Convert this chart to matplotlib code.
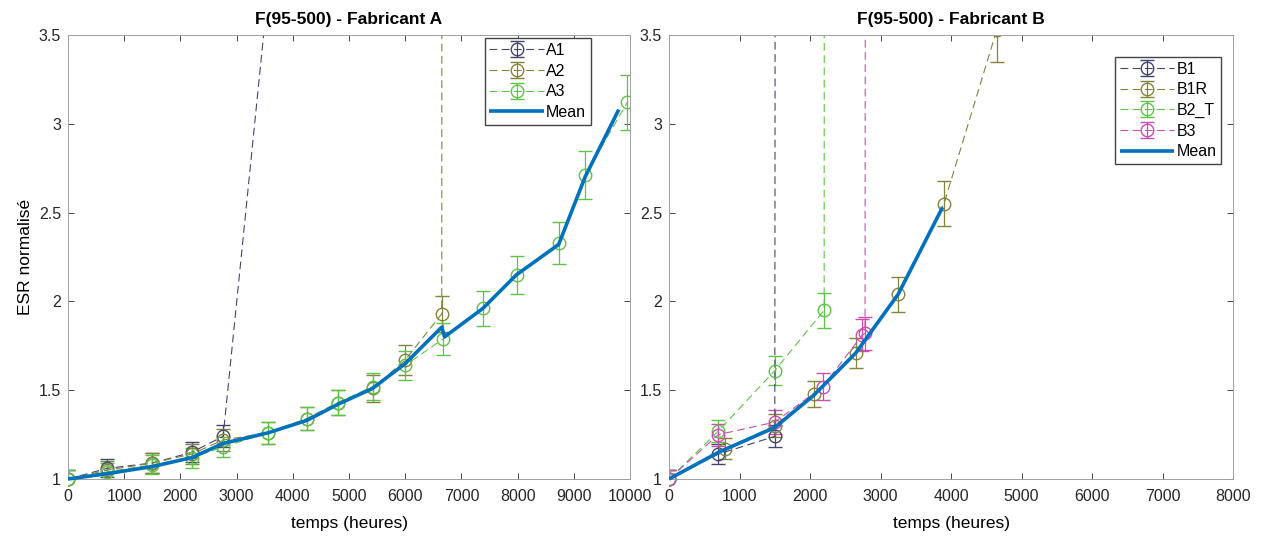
"""
ESR normalisé en fonction du temps - fabricants A et B
"""

import matplotlib
matplotlib.use("Agg")
import matplotlib.pyplot as plt
from matplotlib.transforms import Bbox, TransformedBbox

plt.rcParams["font.family"] = ["Liberation Sans", "DejaVu Sans"]

# --- Fabricant A ---
a1_t = [0, 700, 1500, 2200, 2760, 3560]
a1_y = [1.00, 1.06, 1.09, 1.15, 1.24, 3.75]
a1_e = [0.05, 0.05, 0.055, 0.057, 0.062, 0.19]

a2_t = [0, 700, 1500, 2200, 2760, 3560, 4250, 4800, 5420, 6000, 6650, 6660]
a2_y = [1.00, 1.05, 1.09, 1.14, 1.22, 1.26, 1.34, 1.43, 1.51, 1.67, 1.93, 12.0]
a2_e = [0.05, 0.053, 0.055, 0.057, 0.061, 0.063, 0.067, 0.072, 0.075, 0.083, 0.10, 0.6]

a3_t = [0, 700, 1500, 2200, 2760, 3560, 4250, 4800, 5420, 6000, 6680, 7380, 7980, 8730, 9200, 9950]
a3_y = [1.00, 1.04, 1.08, 1.12, 1.18, 1.26, 1.34, 1.43, 1.52, 1.64, 1.79, 1.96, 2.15, 2.33, 2.71, 3.12]
a3_e = [0.05, 0.052, 0.054, 0.056, 0.059, 0.063, 0.067, 0.072, 0.076, 0.082, 0.09, 0.098, 0.108, 0.117, 0.136, 0.156]

mean_a_t = [0, 700, 1500, 2200, 2760, 3560, 4250, 4800, 5420, 6000, 6650, 6700, 7380, 7980, 8730, 9200, 9800]
mean_a_y = [1.00, 1.03, 1.07, 1.12, 1.20, 1.26, 1.33, 1.42, 1.51, 1.65, 1.855, 1.80, 1.96, 2.15, 2.32, 2.70, 3.08]

# --- Fabricant B ---
b1_t = [0, 700, 1500, 1520]
b1_y = [1.00, 1.14, 1.24, 12.0]
b1_e = [0.05, 0.057, 0.062, 0.6]

b1r_t = [0, 800, 1500, 2050, 2650, 3250, 3900, 4650]
b1r_y = [1.00, 1.17, 1.30, 1.48, 1.71, 2.04, 2.55, 3.53]
b1r_e = [0.05, 0.058, 0.065, 0.074, 0.085, 0.10, 0.127, 0.18]

b2t_t = [0, 700, 1500, 2200, 2210]
b2t_y = [1.00, 1.27, 1.61, 1.95, 12.0]
b2t_e = [0.05, 0.063, 0.08, 0.098, 0.6]

b3_t = [0, 700, 1500, 2180, 2740, 2780, 2800]
b3_y = [1.00, 1.25, 1.32, 1.52, 1.81, 1.82, 12.0]
b3_e = [0.05, 0.062, 0.066, 0.076, 0.09, 0.091, 0.6]

mean_b_t = [0, 700, 1500, 2050, 2650, 3250, 3880]
mean_b_y = [1.00, 1.15, 1.29, 1.47, 1.71, 2.04, 2.53]

C_NAVY = "#44446f"
C_OLIVE = "#83833a"
C_GREEN = "#5cc544"
C_MAGENTA = "#cc4cb2"
C_MEAN = "#0072bd"

DASH = (0, (7, 4))


def loose_clip(ax, artist):
    # comme MATLAB : les marqueurs sur l'axe y=1 ne sont pas coupés
    box = TransformedBbox(Bbox([[0, -0.04], [1, 1]]), ax.transAxes)
    artist.set_clip_box(box)
    artist.set_clip_path(None)


def draw_series(ax, t, y, e, color, label):
    cont = ax.errorbar(
        t, y, yerr=e, color=color, linestyle=DASH, linewidth=0.8,
        marker="o", markersize=9, markerfacecolor="none", markeredgewidth=1.0,
        elinewidth=0.9, capsize=5, capthick=0.9, label=label, zorder=2,
    )
    loose_clip(ax, cont[0])
    return cont


def draw_mean(ax, t, y):
    line, = ax.plot(t, y, color=C_MEAN, linewidth=2.6, label="Mean", zorder=3,
                    solid_capstyle="butt")
    loose_clip(ax, line)
    return line


def style_axes(ax, xmax, xticks):
    ax.set_xlim(0, xmax)
    ax.set_ylim(1, 3.5)
    ax.set_xticks(xticks)
    ax.set_yticks([1, 1.5, 2, 2.5, 3, 3.5])
    ax.set_yticklabels(["1", "1.5", "2", "2.5", "3", "3.5"])
    ax.tick_params(direction="in", top=True, right=True, labelsize=11.5,
                   colors="#262626", length=4, width=0.6)
    ax.tick_params(axis="x", pad=7)
    ax.tick_params(axis="y", pad=5)
    for sp in ax.spines.values():
        sp.set_color("#a0a0a0")
        sp.set_linewidth(0.7)
    ax.set_xlabel("temps (heures)", fontsize=12.5, labelpad=9)


def add_legend(ax, handles, anchor):
    ax.legend(handles=handles, loc="upper right", bbox_to_anchor=anchor,
              fontsize=11.5, fancybox=False, edgecolor="#444444", framealpha=1,
              handlelength=3.4, borderpad=0.3, labelspacing=0.35,
              handletextpad=0.15, borderaxespad=0.2)


fig = plt.figure(figsize=(12.71, 5.38), dpi=100)
ax1 = fig.add_axes([0.0535, 0.1097, 0.4422, 0.8253])
ax2 = fig.add_axes([0.5264, 0.1097, 0.4437, 0.8253])

h_a = [
    draw_series(ax1, a1_t, a1_y, a1_e, C_NAVY, "A1"),
    draw_series(ax1, a2_t, a2_y, a2_e, C_OLIVE, "A2"),
    draw_series(ax1, a3_t, a3_y, a3_e, C_GREEN, "A3"),
    draw_mean(ax1, mean_a_t, mean_a_y),
]
style_axes(ax1, 10000, range(0, 10001, 1000))
ax1.set_ylabel("ESR normalisé", fontsize=12.5)
ax1.set_title("F(95-500) - Fabricant A", fontsize=12.5, fontweight="bold", pad=8)
add_legend(ax1, h_a, (0.936, 1.0))

h_b = [
    draw_series(ax2, b1_t, b1_y, b1_e, C_NAVY, "B1"),
    draw_series(ax2, b1r_t, b1r_y, b1r_e, C_OLIVE, "B1R"),
    draw_series(ax2, b2t_t, b2t_y, b2t_e, C_GREEN, "B2_T"),
    draw_series(ax2, b3_t, b3_y, b3_e, C_MAGENTA, "B3"),
    draw_mean(ax2, mean_b_t, mean_b_y),
]
style_axes(ax2, 8000, range(0, 8001, 1000))
ax2.set_title("F(95-500) - Fabricant B", fontsize=12.5, fontweight="bold", pad=8)
add_legend(ax2, h_b, (0.985, 0.958))

fig.savefig("out.png", dpi=100)
